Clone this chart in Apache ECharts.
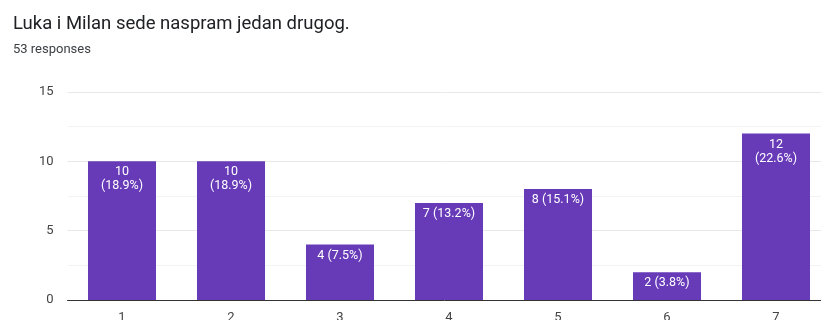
<!DOCTYPE html>
<html><head><meta charset="utf-8">
<script src="https://cdn.jsdelivr.net/npm/echarts@6/dist/echarts.min.js"></script>
<style>html,body{margin:0;padding:0;background:#fff}#c{width:821px;height:320px}</style>
</head><body><div id="c"></div>
<script>
const titleText = "Luka i Milan sede naspram jedan drugog.";
const subtitleText = "53 responses";
const categories = ["1","2","3","4","5","6","7"];
const counts = [10,10,4,7,8,2,12];
const totalResponses = 53;
const yTicks = [0,5,10,15];

const chart = echarts.init(document.getElementById('c'), null, {renderer:'canvas'});
chart.setOption({
  animation:false,
  title:{
    text:titleText, subtext:subtitleText, left:8, top:10, itemGap:9,
    textStyle:{fontFamily:'Roboto', fontSize:18.5, fontWeight:'normal', color:'#202124'},
    subtextStyle:{fontFamily:'Roboto', fontSize:13, color:'#3c4043'}
  },
  grid:{left:67.5, width:763, top:92, bottom:20, containLabel:false, outerBoundsMode:'none'},
  xAxis:{
    type:'category', data:categories,
    axisLine:{lineStyle:{color:'#333', width:1}},
    axisTick:{show:false},
    axisLabel:{fontFamily:'Roboto', fontSize:13, color:'#444', margin:11}
  },
  yAxis:{
    type:'value', min:yTicks[0], max:yTicks[yTicks.length-1], interval:5,
    axisLine:{show:false}, axisTick:{show:false},
    axisLabel:{fontFamily:'Roboto', fontSize:13, color:'#444', margin:14},
    splitLine:{lineStyle:{color:'#e8e8e8'}},
    minorTick:{show:false, splitNumber:2},
    minorSplitLine:{show:true, lineStyle:{color:'#f3f3f3'}}
  },
  series:[{
    type:'bar', data:counts, barCategoryGap:'37.6%',
    itemStyle:{color:'#673ab7'},
    label:{
      show:true, position:'insideTop', distance:4,
      fontFamily:'Roboto', fontSize:12.5, color:'#fff', lineHeight:14,
      formatter:p=>{
        const pct = (p.value/totalResponses*100).toFixed(1);
        return p.value >= 10 ? p.value + '\n(' + pct + '%)' : p.value + ' (' + pct + '%)';
      }
    }
  }]
});
</script></body></html>
